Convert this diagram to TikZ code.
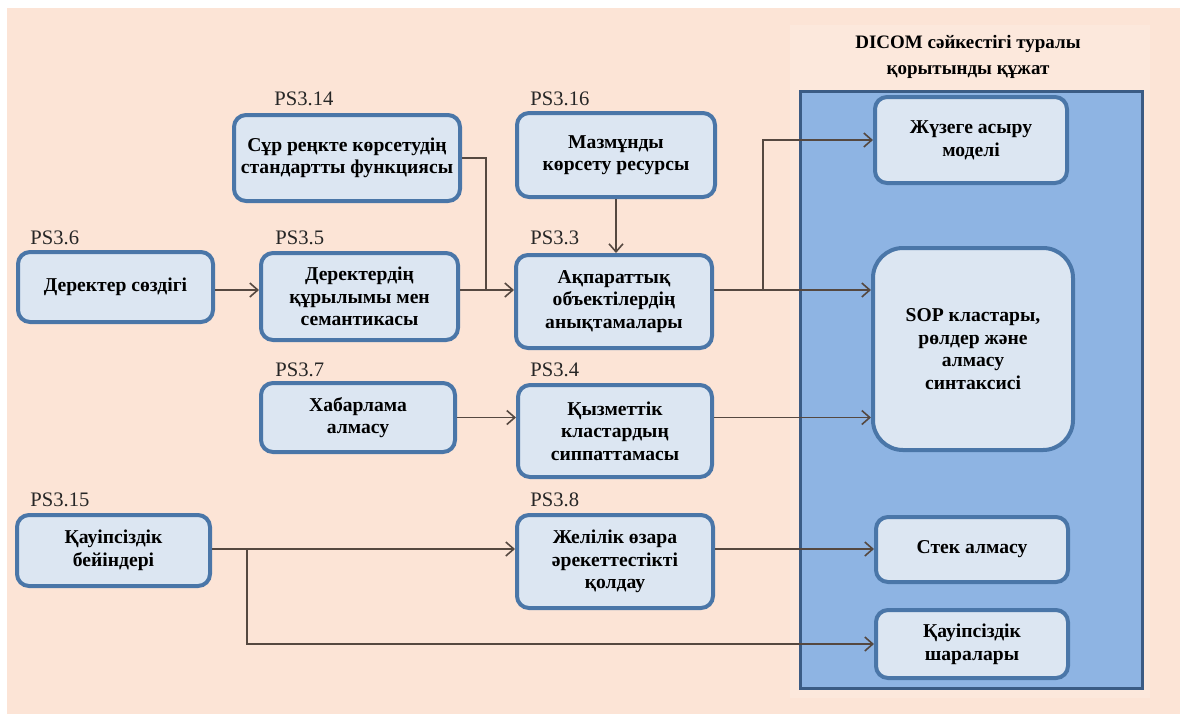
\documentclass[tikz,border=0pt]{standalone}
\usepackage{fontspec}
\setmainfont{Liberation Serif}
\newfontfamily\tekst{Liberation Serif}
\usetikzlibrary{arrows.meta}

\definecolor{fon}{HTML}{FCE4D6}
\definecolor{fonsvetl}{HTML}{FCE8DC}
\definecolor{blokfon}{HTML}{DCE6F2}
\definecolor{bloklinia}{HTML}{4A76A8}
\definecolor{ramkafon}{HTML}{8EB4E3}
\definecolor{ramka}{HTML}{3B5C85}
\definecolor{strelka}{HTML}{554840}

\begin{document}
\begin{tikzpicture}[x=0.5pt,y=-0.5pt,
  blok/.style={draw=bloklinia, line width=2pt, fill=blokfon, rounded corners=6pt,
    align=center, inner sep=2pt, text=black,
    font=\tekst\fontsize{9.8}{11.3}\selectfont\bfseries},
  metka/.style={anchor=west, inner sep=0pt, text=black!85,
    font=\tekst\fontsize{10.3}{12}\selectfont},
  svyaz/.style={draw=strelka, line width=0.8pt,
    -{Straight Barb[length=4pt,width=7pt]}},
  liniya/.style={draw=strelka, line width=0.8pt}]
\useasboundingbox (0,0) rectangle (1180,714);
\fill[white] (0,0) rectangle (1180,714);
\fill[fon] (7,8) rectangle (1180,714);
\fill[fonsvetl] (790,25) rectangle (1150,698);

% title and the document frame
\node[align=center, text=black, font=\tekst\fontsize{9.5}{12.8}\selectfont\bfseries] (zagolovok) at (968,57)
  {DICOM сәйкестігі туралы\\қорытынды құжат};
\draw[draw=ramka, line width=1.5pt, fill=ramkafon] (800,91) rectangle (1142,688);

% labels
\node[metka] (l14) at (274,99) {PS3.14};
\node[metka] (l16) at (530,99) {PS3.16};
\node[metka] (l6) at (30,238) {PS3.6};
\node[metka] (l5) at (275,238) {PS3.5};
\node[metka] (l3) at (530,238) {PS3.3};
\node[metka] (l7) at (275,370) {PS3.7};
\node[metka] (l4) at (530,370) {PS3.4};
\node[metka] (l15) at (30,500) {PS3.15};
\node[metka] (l8) at (530,500) {PS3.8};

% parts of the standard
\node[blok, minimum width=113pt, minimum height=43pt] (ps14) at (347,158) {Сұр реңкте көрсетудің\\стандартты функциясы};
\node[blok, minimum width=99pt, minimum height=42pt] (ps16) at (616,155) {Мазмұнды\\көрсету ресурсы};
\node[blok, minimum width=97.5pt, minimum height=35pt] (ps6) at (115.5,287) {Деректер сөздігі};
\node[blok, minimum width=98.5pt, minimum height=43.5pt] (ps5) at (359.5,296.5) {Деректердің\\құрылымы мен\\семантикасы};
\node[blok, minimum width=98pt, minimum height=46.5pt] (ps3) at (614,301.5) {Ақпараттық\\объектілердің\\анықтамалары};
\node[blok, minimum width=97pt, minimum height=34.5pt] (ps7) at (358,417.5) {Хабарлама\\алмасу};
\node[blok, minimum width=97pt, minimum height=46pt] (ps4) at (615,431) {Қызметтік\\кластардың\\сиппаттамасы};
\node[blok, minimum width=96.5pt, minimum height=35.5pt] (ps15) at (113.5,550.5) {Қауіпсіздік\\бейіндері};
\node[blok, minimum width=98pt, minimum height=46.5pt] (ps8) at (615,561.5) {Желілік өзара\\әрекеттестікті\\қолдау};

% conformance statement parts
\node[blok, minimum width=96pt, minimum height=43pt] (model) at (971,140) {Жүзеге асыру\\моделі};
\node[blok, rounded corners=15pt, minimum width=100pt, minimum height=101pt] (sop) at (973,349) {SOP кластары,\\рөлдер және\\алмасу\\синтаксисі};
\node[blok, minimum width=96pt, minimum height=32.5pt] (stek) at (972,549.5) {Стек алмасу};
\node[blok, minimum width=96pt, minimum height=34pt] (shara) at (972,644) {Қауіпсіздік\\шаралары};

% connectors
\coordinate (u1) at (486,290);
\coordinate (u2) at (763,290);
\coordinate (u3) at (247,549);
\draw[svyaz] (ps6.east |- u1) -- (ps5.west |- u1);
\draw[svyaz] (ps5.east |- u1) -- (ps3.west |- u1);
\draw[liniya] (ps14.east) -| (u1);
\draw[svyaz] (ps16.south) -- (ps16.south |- ps3.north);
\draw[svyaz] (ps3.east |- u2) -- (sop.west |- u2);
\draw[svyaz] (u2) |- (model.west);
\draw[svyaz] (ps7.east) -- (ps7.east -| ps4.west);
\draw[svyaz] (ps4.east |- ps7.east) -- (ps7.east -| sop.west);
\draw[svyaz] (ps15.east |- u3) -- (ps8.west |- u3);
\draw[svyaz] (ps8.east |- u3) -- (stek.west |- u3);
\draw[svyaz] (u3) |- (shara.west);
\end{tikzpicture}
\end{document}
